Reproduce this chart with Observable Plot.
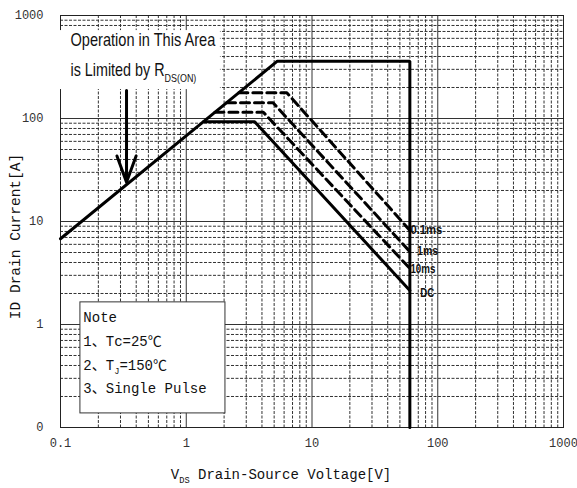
<!DOCTYPE html>
<html><head><meta charset="utf-8">
<script src="https://cdn.jsdelivr.net/npm/d3@7"></script>
<script src="https://cdn.jsdelivr.net/npm/@observablehq/plot@0.6"></script>
<style>body{margin:0;background:#fff;} #chart svg{display:block;}</style>
</head><body><div id="chart"></div>
<script>
// ---- axis ticks ----
const xMajor = [0.1, 1, 10, 100, 1000];
const xTickLabels = ["0.1", "1", "10", "100", "1000"];
const yMajor = [0.1, 1, 10, 100, 1000];
const yTickLabels = ["0", "1", "10", "100", "1000"];
const decades = [0.1, 1, 10, 100];
const minorSteps = [2, 3, 4, 5, 6, 7, 8, 9];

// ---- SOA curves (V, A) ----
const limitV = [0.1, 5.3, 60, 60];
const limitI = [6.8, 360, 360, 0.1];
const dcV = [1.37, 3.5, 60];
const dcI = [93, 93, 2.14];
const t10msV = [1.69, 4.1, 60];
const t10msI = [115, 115, 3.5];
const t1msV = [2.09, 4.9, 60];
const t1msI = [142, 142, 5.1];
const t01msV = [2.62, 6.3, 60];
const t01msI = [178, 178, 8.2];

// ---- curve labels ----
const curveNames = ["0.1ms", "1ms", "10ms", "DC"];
const curveLabelV = [60.6, 68.5, 60.6, 72.5];
const curveLabelI = [8.2, 5.1, 3.42, 2.0];

// ---- annotations ----
const annBoxV = [0.1, 1.87];
const annBoxI = [714, 191];
const annLines = ["Operation in This Area", "is Limited by R_{DS(ON)}"];
const annLineV = [0.12, 0.12];
const annLineI = [571, 292];
const arrowV = 0.335;
const arrowI = [187, 24];

const noteBoxV = [0.144, 2.05];
const noteBoxI = [1.64, 0.137];
const noteLines = ["Note", "1、Tc=25℃", "2、T_{J}=150℃", "3、Single Pulse"];
const noteLineV = [0.152, 0.152, 0.152, 0.152];
const noteLineI = [1.17, 0.684, 0.40, 0.239];

const xTitle = "V_{DS} Drain-Source Voltage[V]";
const yTitle = "ID Drain Current[A]";

// target widths (px) for the condensed-font texts
const squeeze = {"Operation in This Area": 145, "is Limited by R_{DS(ON)}": 126,
  "0.1ms": 32, "1ms": 21, "10ms": 25, "DC": 14};

// ---- helpers ----
const pts = (vs, is) => vs.map((v, k) => ({v, i: is[k]}));
const minorOf = ds => ds.flatMap(d => minorSteps.map(m => +(d * m).toPrecision(3)));
const monoFont = "'Liberation Mono', 'Noto Sans CJK SC', monospace";
const narrowFont = "'Liberation Sans Narrow', 'Arial Narrow', 'Liberation Sans', sans-serif";

const chart = Plot.plot({
  width: 577, height: 488,
  marginLeft: 60, marginRight: 14, marginTop: 15, marginBottom: 61,
  style: {fontFamily: monoFont, fontSize: "12px", background: "#fff"},
  x: {type: "log", domain: [0.1, 1000]},
  y: {type: "log", domain: [0.1, 1000]},
  marks: [
    Plot.ruleX(minorOf(decades), {stroke: "#333", strokeWidth: 1, strokeDasharray: "3,1.5"}),
    Plot.ruleY(minorOf(decades), {stroke: "#333", strokeWidth: 1, strokeDasharray: "3,1.5"}),
    Plot.ruleX(xMajor, {stroke: "#333", strokeWidth: 1}),
    Plot.ruleY(yMajor, {stroke: "#333", strokeWidth: 1}),
    Plot.frame({stroke: "#222"}),
    // annotation box
    Plot.rect([0], {x1: () => annBoxV[0], x2: () => annBoxV[1], y1: () => annBoxI[0], y2: () => annBoxI[1], fill: "#fff"}),
    Plot.text(annLines, {x: (d, k) => annLineV[k], y: (d, k) => annLineI[k], text: d => d,
      textAnchor: "start", lineAnchor: "middle", fontFamily: narrowFont, fontSize: 18, fill: "#111"}),
    // SOA lines
    Plot.line(pts(limitV, limitI), {x: "v", y: "i", stroke: "#000", strokeWidth: 3, strokeLinejoin: "miter"}),
    Plot.line(pts(dcV, dcI), {x: "v", y: "i", stroke: "#000", strokeWidth: 3, strokeLinejoin: "miter"}),
    Plot.line(pts(t10msV, t10msI), {x: "v", y: "i", stroke: "#000", strokeWidth: 3, strokeDasharray: "9,5"}),
    Plot.line(pts(t1msV, t1msI), {x: "v", y: "i", stroke: "#000", strokeWidth: 3, strokeDasharray: "9,5"}),
    Plot.line(pts(t01msV, t01msI), {x: "v", y: "i", stroke: "#000", strokeWidth: 3, strokeDasharray: "9,5"}),
    Plot.text(curveNames, {x: (d, k) => curveLabelV[k], y: (d, k) => curveLabelI[k], text: d => d,
      textAnchor: "start", lineAnchor: "middle", fontFamily: narrowFont, fontWeight: "bold", fontSize: 12, fill: "#111"}),
    // arrow
    Plot.arrow([0], {x1: () => arrowV, y1: () => arrowI[0], x2: () => arrowV, y2: () => arrowI[1],
      stroke: "#000", strokeWidth: 3, headLength: 14, headAngle: 40}),
    // note box
    Plot.rect([0], {x1: () => noteBoxV[0], x2: () => noteBoxV[1], y1: () => noteBoxI[0], y2: () => noteBoxI[1],
      fill: "#fff", stroke: "#333", strokeWidth: 1}),
    Plot.text(noteLines, {x: (d, k) => noteLineV[k], y: (d, k) => noteLineI[k], text: d => d,
      textAnchor: "start", lineAnchor: "middle", fontFamily: monoFont, fontSize: 14, fill: "#111"}),
    // axes
    Plot.axisX({ticks: xMajor, tickSize: 0, tickPadding: 11, label: null, color: "#333",
      tickFormat: d => xTickLabels[xMajor.indexOf(d)], fontSize: 12}),
    Plot.axisY({ticks: yMajor, tickSize: 0, tickPadding: 17, label: null, color: "#333",
      tickFormat: d => yTickLabels[yMajor.indexOf(d)], fontSize: 12}),
    // titles
    Plot.text([xTitle], {frameAnchor: "bottom", dx: -31, dy: 47, lineAnchor: "middle", textAnchor: "middle",
      fontFamily: monoFont, fontSize: 14, fill: "#111"}),
    Plot.text([yTitle], {frameAnchor: "left", rotate: -90, dx: -45, dy: 15, lineAnchor: "middle", textAnchor: "middle",
      fontFamily: monoFont, fontSize: 14.5, fill: "#111"})
  ]
});
document.getElementById("chart").appendChild(chart);

// subscripts: turn "_{...}" into smaller lowered tspans; squeeze condensed texts horizontally
chart.querySelectorAll("text").forEach(t => {
  const s = t.textContent;
  if (s.includes("_{")) {
    const fs = parseFloat(getComputedStyle(t).fontSize) || 12;
    const shift = fs * 0.3;
    t.textContent = "";
    s.split(/_\{([^}]*)\}/).forEach((p, k) => {
      if (!p) return;
      const ts = document.createElementNS("http://www.w3.org/2000/svg", "tspan");
      ts.textContent = p;
      if (k % 2 === 1) {
        ts.setAttribute("font-size", (fs * 0.62).toFixed(1));
        ts.setAttribute("dy", shift.toFixed(1));
      } else if (k > 0) {
        ts.setAttribute("dy", (-shift).toFixed(1));
      }
      t.appendChild(ts);
    });
  }
  if (squeeze[s]) {
    const w = t.getComputedTextLength();
    if (w > 0) {
      const k = squeeze[s] / w;
      const tr = t.getAttribute("transform") || "";
      t.setAttribute("transform", tr + ` scale(${k.toFixed(3)},1)`);
    }
  }
});
</script></body></html>
